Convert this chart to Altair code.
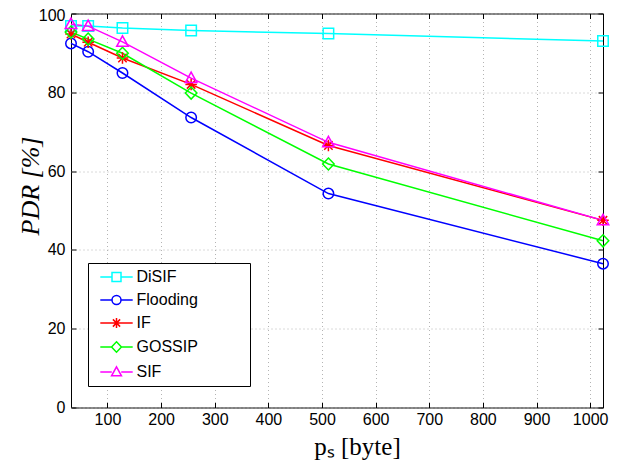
import altair as alt
import pandas as pd

# ---- data ----
methods = ["DiSIF", "Flooding", "IF", "GOSSIP", "SIF"]
sizes = [32, 64, 128, 256, 512, 1024]
pdr_disif = [96.8, 96.8, 96.3, 95.7, 94.9, 93.0]
pdr_flooding = [92.4, 90.3, 84.9, 73.6, 54.3, 36.5]
pdr_if = [94.8, 92.7, 88.7, 82.0, 66.5, 47.5]
pdr_gossip = [95.3, 93.5, 89.9, 79.8, 61.8, 42.3]
pdr_sif = [97.3, 96.8, 92.8, 83.6, 67.3, 47.5]
x_ticks = [100, 200, 300, 400, 500, 600, 700, 800, 900, 1000]
y_ticks = [0, 20, 40, 60, 80, 100]

series = [pdr_disif, pdr_flooding, pdr_if, pdr_gossip, pdr_sif]
rows = []
for m, vals in zip(methods, series):
    for s, v in zip(sizes, vals):
        rows.append({"method": m, "size": s, "pdr": v})
df = pd.DataFrame(rows)

# ---- styles ----
colors = ["#00ffff", "#0000ff", "#ff0000", "#00ff00", "#ff00ff"]
marker_paths = [
    "M-1,-1H1V1H-1Z",
    "M1,0A1,1,0,1,1,-1,0A1,1,0,1,1,1,0Z",
    "M0,-1.1V1.1M-1.1,0H1.1M-0.8,-0.8L0.8,0.8M-0.8,0.8L0.8,-0.8",
    "M0,-1.15L1.1,0L0,1.15L-1.1,0Z",
    "M0,-1.15L1.1,0.85L-1.1,0.85Z",
]
seg = "M-3.6,0H-1.05M1.05,0H3.6"
legend_paths = [
    seg + "M-1,-1H1V1H-1Z",
    seg + "M1,0A1,1,0,1,1,-1,0A1,1,0,1,1,1,0Z",
    "M-3.6,0H3.6M0,-1.1V1.1M-0.8,-0.8L0.8,0.8M-0.8,0.8L0.8,-0.8",
    seg + "M0,-1.15L1.1,0L0,1.15L-1.1,0Z",
    seg + "M0,-1.15L1.1,0.85L-1.1,0.85Z",
]

SANS = "Liberation Sans"
SERIF = "Liberation Serif"

xscale = alt.Scale(domain=[32, 1024], nice=False, zero=False)
yscale = alt.Scale(domain=[0, 100], nice=False, zero=False)
cscale = alt.Scale(domain=methods, range=colors)

grid_common = dict(grid=True, gridColor="#b4b4b4", gridDash=[1, 3], gridWidth=1)
tick_common = dict(offset=-5, tickSize=5, tickColor="black", tickWidth=1, domain=False)

x_bottom = alt.Axis(
    orient="bottom", values=x_ticks, format="d", labelFont=SANS, labelFontSize=16,
    labelColor="black", labelPadding=4, title="pₛ [byte]", titleFont=SERIF,
    titleFontSize=25, titleFontWeight="normal", titleColor="black",
    titleX=286, titleY=52, titleAlign="center", titleBaseline="alphabetic",
    **grid_common, **tick_common,
)
y_left = alt.Axis(
    orient="left", values=y_ticks, format="d", labelFont=SANS, labelFontSize=16,
    labelColor="black", labelPadding=6,
    labelOffset={"condition": {"test": "datum.value == 100", "value": 1.5}, "value": 0},
    title="PDR [%]", titleFont=SERIF,
    titleFontSize=26, titleFontWeight="normal", titleFontStyle="italic",
    titleColor="black", titleAngle=270, titleX=-46, titleY=172,
    titleAlign="center", titleBaseline="middle",
    **grid_common, **tick_common,
)
x_top = alt.Axis(orient="top", values=x_ticks, labels=False, grid=False, title=None, **tick_common)
y_right = alt.Axis(orient="right", values=y_ticks, labels=False, grid=False, title=None, **tick_common)

base = alt.Chart(df)

lines = base.mark_line(strokeWidth=1.5).encode(
    x=alt.X("size:Q", scale=xscale, axis=x_bottom),
    y=alt.Y("pdr:Q", scale=yscale, axis=y_left),
    color=alt.Color("method:N", scale=cscale, legend=None),
    detail="method:N",
)

points = base.mark_point(filled=False, size=110, strokeWidth=1.5, opacity=1).encode(
    x=alt.X("size:Q", scale=xscale, axis=x_top),
    y=alt.Y("pdr:Q", scale=yscale, axis=y_right),
    color=alt.Color("method:N", scale=cscale, legend=None),
    shape=alt.Shape("method:N", scale=alt.Scale(domain=methods, range=marker_paths), legend=None),
)

legend_kw = dict(
    orient="none", legendX=17, legendY=249.5,
    title="MMMMM", titleOrient="right", titleColor="transparent",
    titleFont=SANS, titleFontSize=11, titleFontWeight="normal", titlePadding=0,
    labelFont=SANS, labelFontSize=16, labelColor="black",
    strokeColor="black", fillColor="white", padding=6,
    symbolStrokeWidth=1.5, symbolSize=81, symbolOffset=14.5, labelOffset=12,
    rowPadding=7,
)
legend_layer = base.transform_filter("false").mark_point(filled=False, strokeWidth=1.5, opacity=1).encode(
    x=alt.X("size:Q", scale=xscale, axis=None),
    y=alt.Y("pdr:Q", scale=yscale, axis=None),
    color=alt.Color("method:N", scale=cscale, legend=alt.Legend(**legend_kw)),
    shape=alt.Shape("method:N", scale=alt.Scale(domain=methods, range=legend_paths),
                    legend=alt.Legend(**legend_kw)),
)

chart = (
    alt.layer(lines, points, legend_layer)
    .resolve_scale(color="independent", shape="independent")
    .resolve_axis(x="independent", y="independent")
    .properties(
        width=532, height=394,
        autosize=alt.AutoSizeParams(type="none"),
        padding={"left": 63, "top": 5.5, "right": 14, "bottom": 54},
        background="white",
    )
    .configure_view(stroke="black", strokeWidth=1)
)

chart.save("out.html", embed_options={"renderer": "svg", "actions": False})
